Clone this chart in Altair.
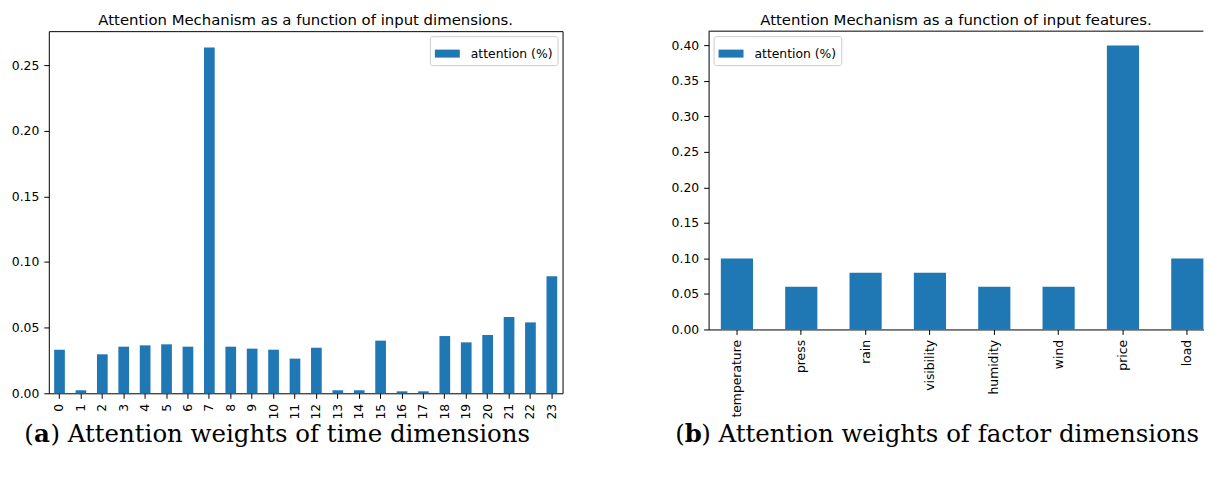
import altair as alt
import pandas as pd

# ---- data ----
time_labels = ["0", "1", "2", "3", "4", "5", "6", "7", "8", "9", "10", "11",
               "12", "13", "14", "15", "16", "17", "18", "19", "20", "21", "22", "23"]
time_attention = [0.0332, 0.0023, 0.0297, 0.0355, 0.0365, 0.0373, 0.0355, 0.2634,
                  0.0355, 0.0340, 0.0332, 0.0264, 0.0347, 0.0023, 0.0023, 0.0401,
                  0.0015, 0.0015, 0.0436, 0.0388, 0.0444, 0.0581, 0.0540, 0.0892]
factor_labels = ["temperature", "press", "rain", "visibility", "humidity", "wind", "price", "load"]
factor_attention = [0.10, 0.06, 0.08, 0.08, 0.06, 0.06, 0.40, 0.10]
series_name = "attention (%)"
time_ticks = [0.0, 0.05, 0.10, 0.15, 0.20, 0.25]
factor_ticks = [0.0, 0.05, 0.10, 0.15, 0.20, 0.25, 0.30, 0.35, 0.40]

title_a = "Attention Mechanism as a function of input dimensions."
title_b = "Attention Mechanism as a function of input features."
caption_a = ["(", "a", ") Attention weights of time dimensions"]
caption_b = ["(", "b", ") Attention weights of factor dimensions"]

BLUE = "#1f77b4"
SANS = "DejaVu Sans"
SERIF = "DejaVu Serif"
CAP_SIZE = 24.5
TICK_SIZE = 12.4
TITLE_SIZE = 14.9
LEGEND_SYMBOL = "M-1,-0.32H1V0.32H-1Z"


def caption_layer(parts, x0, y0):
    # "(" normal, letter bold, rest normal
    w_paren = 0.39 * CAP_SIZE
    w_bold = 0.675 * CAP_SIZE
    offs = [0, w_paren, w_paren + w_bold]
    weights = ["normal", "bold", "normal"]
    layers = []
    for txt, off, wt in zip(parts, offs, weights):
        layers.append(
            alt.Chart(pd.DataFrame({"t": [txt]})).mark_text(
                font=SERIF, fontSize=CAP_SIZE, fontWeight=wt, color="black",
                align="left", baseline="alphabetic"
            ).encode(x=alt.value(x0 + off), y=alt.value(y0), text="t:N")
        )
    return layers


def panel(cats, vals, ymax, yticks, w, h, xscale, title, legend_orient,
          caption, cap_x, cap_y, open_right):
    df = pd.DataFrame({"dim": cats, "value": vals, "series": [series_name] * len(cats)})
    bars = alt.Chart(df).mark_bar(color=BLUE).encode(
        x=alt.X("dim:N", sort=cats, scale=xscale,
                axis=alt.Axis(title=None, labelAngle=270, labelPadding=5, tickSize=5,
                              labelFont=SANS, labelFontSize=TICK_SIZE, labelColor="black",
                              tickColor="black", tickWidth=1, domain=open_right,
                              domainColor="black", domainWidth=1)),
        y=alt.Y("value:Q",
                scale=alt.Scale(domain=[0, ymax], nice=False, zero=True),
                axis=alt.Axis(title=None, values=yticks, format=".2f", grid=False,
                              labelPadding=5, tickSize=5, labelFont=SANS,
                              labelFontSize=TICK_SIZE, labelColor="black",
                              tickColor="black", tickWidth=1, domain=open_right,
                              domainColor="black", domainWidth=1)),
        color=alt.Color("series:N", scale=alt.Scale(range=[BLUE]),
                        legend=alt.Legend(orient=legend_orient, offset=5, title=None,
                                          symbolType=LEGEND_SYMBOL, symbolSize=625,
                                          symbolStrokeWidth=0, labelFont=SANS,
                                          labelFontSize=TICK_SIZE, labelColor="black",
                                          strokeColor="#cccccc", fillColor="white",
                                          padding=5, cornerRadius=2, labelOffset=11)),
    )
    layers = [bars] + caption_layer(caption, cap_x, cap_y)
    props = dict(
        width=w, height=h,
        title=alt.TitleParams(title, font=SANS, fontSize=TITLE_SIZE, fontWeight="normal",
                              color="black", offset=3, anchor="middle"),
    )
    if open_right:
        # the reference panel runs past the page edge: top spine only, no right spine
        top_spine = alt.Chart(pd.DataFrame({"k": [0]})).mark_rule(
            color="black", strokeWidth=1
        ).encode(x=alt.value(0), x2=alt.value("width"), y=alt.value(0))
        layers.append(top_spine)
        props["view"] = alt.ViewBackground(stroke="transparent")
    return alt.layer(*layers).properties(**props)


left = panel(time_labels, time_attention, 0.2758, time_ticks, 515, 363,
             alt.Scale(paddingInner=0.5, paddingOuter=0.25),
             title_a, "top-right", caption_a, -24.5, 412.3, False)
right = panel(factor_labels, factor_attention, 0.42, factor_ticks, 496, 299,
              alt.Scale(paddingInner=0.5, paddingOuter=0.095, align=1),
              title_b, "top-left", caption_b, -33.5, 412.3, True)

chart = alt.hconcat(left, right, spacing=106.4).properties(
    padding={"left": 1.9, "top": 3.7, "right": 0, "bottom": 0}
).configure_view(stroke="black", strokeWidth=1)

chart.save("out.html", embed_options={"renderer": "svg", "actions": False})
